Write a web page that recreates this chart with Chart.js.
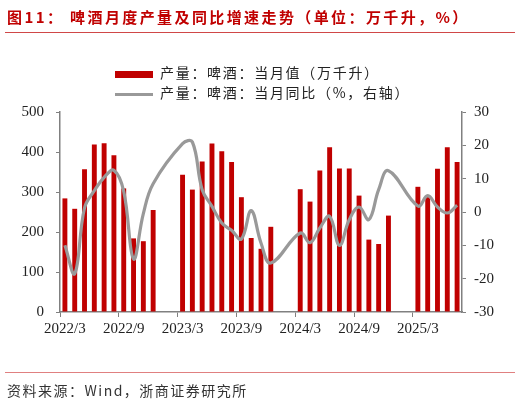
<!DOCTYPE html>
<html lang="zh-CN">
<head>
<meta charset="utf-8">
<title>啤酒月度产量及同比增速走势</title>
<script src="https://cdn.jsdelivr.net/npm/chart.js@4.4.1/dist/chart.umd.min.js"></script>
<style>
    html, body { margin: 0; padding: 0; background: #fff; }
    #wrap { position: relative; width: 520px; height: 403px; overflow: hidden; }
    #title {
        position: absolute; left: 7px; top: 6px; white-space: nowrap;
        font: bold 15px "Noto Sans CJK SC", sans-serif; letter-spacing: 2.4px; color: #c00000;
    }
    .rule { position: absolute; left: 5px; width: 510px; height: 1px; background: #d04848; }
    #legend {
        position: absolute; left: 115px; top: 62px;
        font: 14px "Noto Sans CJK SC", sans-serif; letter-spacing: 1.7px; color: #222;
    }
    #legend .row { height: 20px; line-height: 20px; white-space: nowrap; }
    #legend .sw { display: inline-block; width: 38px; margin-right: 7px; vertical-align: middle; }
    #source {
        position: absolute; left: 7px; top: 380px; white-space: nowrap;
        font: 14px "Noto Sans CJK SC", sans-serif; letter-spacing: 1.5px; color: #333;
    }
    #chart { position: absolute; left: 0; top: 0; }
</style>
</head>
<body>
<div id="wrap">
    <canvas id="chart" width="520" height="403"></canvas>
    <div id="title">图11：&nbsp;啤酒月度产量及同比增速走势（单位：万千升，%）</div>
    <div class="rule" style="top:32px"></div>
    <div id="legend">
        <div class="row"><span class="sw" style="height:7px;background:#c00000"></span>产量：啤酒：当月值（万千升）</div>
        <div class="row"><span class="sw" style="height:3px;background:#999"></span>产量：啤酒：当月同比（%，右轴）</div>
    </div>
    <div class="rule" style="top:372px;background:#e08080"></div>
    <div id="source">资料来源：Wind，浙商证券研究所</div>
</div>
<script>
// months 2022/3 .. 2025/7, Jan/Feb have no separate release
var months = [
    '2022/3', '2022/4', '2022/5', '2022/6', '2022/7', '2022/8', '2022/9', '2022/10', '2022/11', '2022/12',
    '2023/1', '2023/2', '2023/3', '2023/4', '2023/5', '2023/6', '2023/7', '2023/8', '2023/9', '2023/10', '2023/11', '2023/12',
    '2024/1', '2024/2', '2024/3', '2024/4', '2024/5', '2024/6', '2024/7', '2024/8', '2024/9', '2024/10', '2024/11', '2024/12',
    '2025/1', '2025/2', '2025/3', '2025/4', '2025/5', '2025/6', '2025/7'
];
// 当月值 (万千升)
var output = [
    284, 258, 357, 419, 422, 392, 309, 184, 177, 255,
    null, null, 343, 306, 376, 421, 402, 375, 287, 185, 158, 213,
    null, null, 307, 276, 354, 412, 359, 359, 291, 181, 170, 241,
    null, null, 313, 287, 358, 412, 375
];
// 当月同比 (%)
var yoy = [
    -10, -18.5, 1.2, 6.4, 10.4, 12.5, 6.2, -14.1, -0.5, 8.5,
    null, null, 20.5, 21, 6.7, 1.7, -3.3, -5.5, -8.1, 0.4, -9.3, -15.3,
    null, null, -6.3, -9.2, -4.8, -1.3, -10, -2.3, 1.5, -2.3, 6.7, 12.4,
    null, null, 1.8, 4.9, 1.5, -0.3, 2.0
];
var leftTicks = [0, 100, 200, 300, 400, 500];
var rightTicks = [-30, -20, -10, 0, 10, 20, 30];

(function () {
    'use strict';

    var AXIS = '#808080';
    var tickFont = { family: '"Liberation Serif", "Times New Roman", serif', size: 15 };

    function fixTicks(list) {
        return function (scale) {
            scale.ticks = list.map(function (v) { return { value: v }; });
        };
    }

    var ctx = document.getElementById('chart').getContext('2d');
    new Chart(ctx, {
        type: 'bar',
        data: {
            labels: months,
            datasets: [{
                type: 'line',
                label: '产量：啤酒：当月同比（%，右轴）',
                data: yoy,
                yAxisID: 'y1',
                borderColor: '#999999',
                borderWidth: 3.2,
                pointRadius: 0,
                tension: 0.4,
                spanGaps: true,
                order: 0
            }, {
                label: '产量：啤酒：当月值（万千升）',
                data: output,
                yAxisID: 'y',
                backgroundColor: '#c00000',
                categoryPercentage: 1,
                barPercentage: 0.5,
                order: 1
            }]
        },
        options: {
            responsive: false,
            animation: false,
            layout: { padding: { top: 112, left: 0, right: 0, bottom: 0 } },
            plugins: { legend: { display: false }, tooltip: { enabled: false } },
            scales: {
                x: {
                    offset: true,
                    grid: {
                        offset: true,
                        drawOnChartArea: false,
                        tickLength: 5,
                        tickColor: function (c) { return c.index % 6 === 0 ? AXIS : 'rgba(0,0,0,0)'; }
                    },
                    border: { color: AXIS, width: 1.5 },
                    ticks: {
                        autoSkip: false,
                        maxRotation: 0,
                        padding: 3,
                        color: '#222',
                        font: tickFont,
                        callback: function (v, i) { return i % 6 === 0 ? months[i] : ''; }
                    },
                    afterFit: function (s) { s.height = 91; }
                },
                y: {
                    position: 'left',
                    min: 0, max: 500,
                    grid: { drawOnChartArea: false, tickLength: 4, tickColor: AXIS },
                    border: { color: AXIS, width: 1.5 },
                    ticks: { padding: 12, color: '#222', font: tickFont },
                    afterBuildTicks: fixTicks(leftTicks),
                    afterFit: function (s) { s.width = 60; }
                },
                y1: {
                    position: 'right',
                    min: -30, max: 30,
                    grid: { drawOnChartArea: false, tickLength: 4, tickColor: AXIS },
                    border: { color: AXIS, width: 1.5 },
                    ticks: { padding: 8, color: '#222', font: tickFont },
                    afterBuildTicks: fixTicks(rightTicks),
                    afterFit: function (s) { s.width = 58; }
                }
            }
        }
    });
})();
</script>
</body>
</html>
